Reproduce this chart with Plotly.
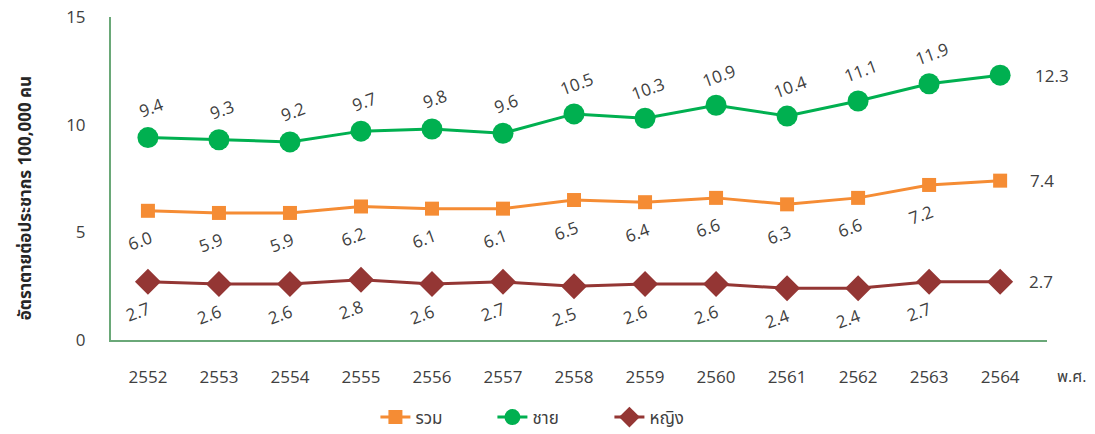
import plotly.graph_objects as go

years = ["2552", "2553", "2554", "2555", "2556", "2557", "2558", "2559", "2560", "2561", "2562", "2563", "2564"]
total = [6.0, 5.9, 5.9, 6.2, 6.1, 6.1, 6.5, 6.4, 6.6, 6.3, 6.6, 7.2, 7.4]
male = [9.4, 9.3, 9.2, 9.7, 9.8, 9.6, 10.5, 10.3, 10.9, 10.4, 11.1, 11.9, 12.3]
female = [2.7, 2.6, 2.6, 2.8, 2.6, 2.7, 2.5, 2.6, 2.6, 2.4, 2.4, 2.7, 2.7]
yticks = [0, 5, 10, 15]

FONT = "Open Sans, Noto Sans, Noto Sans Thai, DejaVu Sans, sans-serif"
TXT = "#404040"
C_TOTAL = "#f58c34"
C_MALE = "#00b050"
C_FEMALE = "#943634"
AXIS = "#6aa878"

x = list(range(len(years)))

fig = go.Figure()
fig.add_trace(go.Scatter(x=x, y=total, name="รวม", mode="lines+markers",
                         line=dict(color=C_TOTAL, width=3),
                         marker=dict(symbol="square", size=14, color=C_TOTAL)))
fig.add_trace(go.Scatter(x=x, y=male, name="ชาย", mode="lines+markers",
                         line=dict(color=C_MALE, width=3),
                         marker=dict(symbol="circle", size=21, color=C_MALE)))
fig.add_trace(go.Scatter(x=x, y=female, name="หญิง", mode="lines+markers",
                         line=dict(color=C_FEMALE, width=3),
                         marker=dict(symbol="diamond", size=20, color=C_FEMALE)))

ann = []
last = len(years) - 1
for series, dy, dx, lx in ((male, 30, 3, 33), (total, -30, -8, 28), (female, -30, -10, 27)):
    for i, v in enumerate(series):
        if i == last:
            ann.append(dict(x=i, y=v, xref="x", yref="y", text=f"{v:.1f}", showarrow=False,
                            xanchor="left", xshift=lx, yshift=0,
                            font=dict(family=FONT, size=17, color=TXT)))
        else:
            ann.append(dict(x=i, y=v, xref="x", yref="y", text=f"{v:.1f}", showarrow=False,
                            textangle=-20, xshift=dx, yshift=dy,
                            font=dict(family=FONT, size=17, color=TXT)))

ann.append(dict(x=1.0, y=-0.112, xref="paper", yref="paper", xanchor="left", yanchor="middle",
                text="พ.ศ.", showarrow=False, xshift=8,
                font=dict(family=FONT, size=16, color=TXT)))

ann.append(dict(x=-0.0925, y=0.44, xref="paper", yref="paper", xanchor="center", yanchor="middle",
                text="<b>อัตราตายต่อประชากร 100,000 คน</b>", showarrow=False, textangle=-90,
                font=dict(family=FONT, size=17, color="#262626")))

fig.update_layout(
    width=1095, height=434,
    margin=dict(l=111, r=48, t=17, b=94, autoexpand=False),
    paper_bgcolor="white", plot_bgcolor="white",
    font=dict(family=FONT, size=17, color=TXT),
    showlegend=True,
    legend=dict(orientation="h", x=0.47, xanchor="center", y=-0.24, yanchor="middle",
                font=dict(family=FONT, size=17, color=TXT), entrywidth=72),
    annotations=ann,
    xaxis=dict(range=[-0.52, 12.66], tickvals=x, ticktext=years, showgrid=False,
               showline=True, linecolor=AXIS, linewidth=2, ticks="", zeroline=False,
               automargin=False,
               ticklabelstandoff=21, tickfont=dict(size=17, color=TXT)),
    yaxis=dict(range=[0, 15], tickvals=yticks, showgrid=False, showline=True,
               linecolor=AXIS, linewidth=2, ticks="", zeroline=False, automargin=False,
               ticklabelstandoff=20, tickfont=dict(size=17, color=TXT)),
)

fig.write_html("out.html")
